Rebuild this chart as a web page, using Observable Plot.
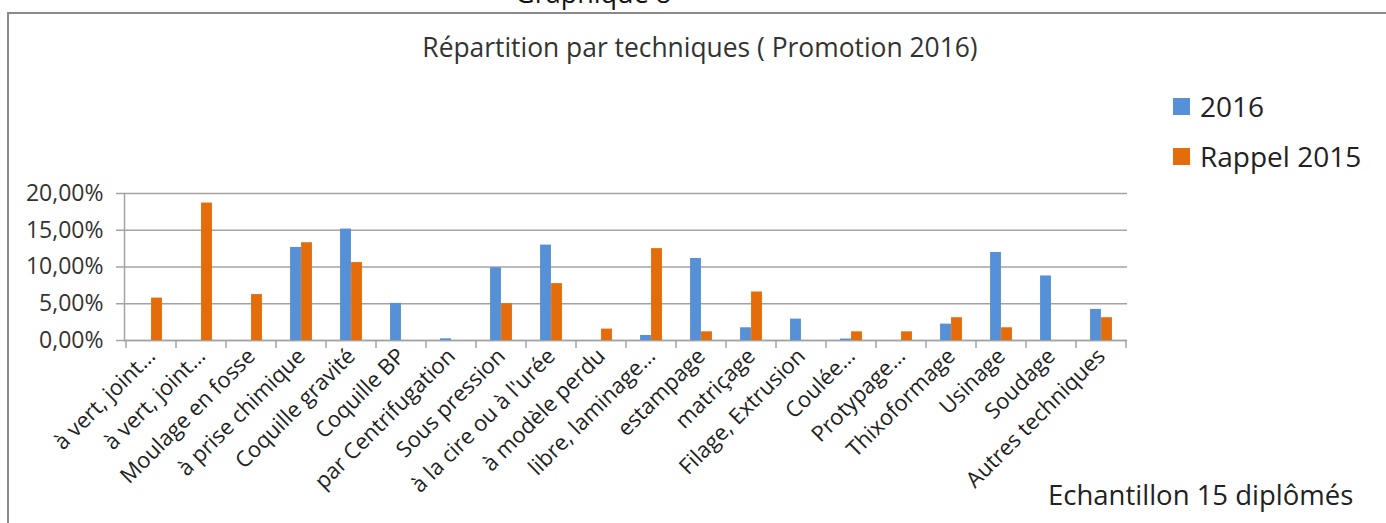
<!DOCTYPE html>
<html><head><meta charset="utf-8">
<script src="https://cdn.jsdelivr.net/npm/d3@7"></script>
<script src="https://cdn.jsdelivr.net/npm/@observablehq/plot@0.6"></script>
<style>
body{margin:0;background:#fff;font-family:"Open Sans",sans-serif;}
#wrap{position:relative;width:1386px;height:523px;overflow:hidden;background:#fff;}
#frame{position:absolute;left:7px;top:12px;width:1400px;height:600px;border-left:2px solid #8a8a8a;border-top:2px solid #8a8a8a;}
#sup{position:absolute;left:515px;top:-21px;font-size:27px;line-height:27px;color:#111;white-space:nowrap;}
#title{position:absolute;left:0;width:1400px;top:30px;text-align:center;font-size:26.4px;line-height:34px;color:#333;white-space:nowrap;}
#chart{position:absolute;left:0;top:0;}
#legend{position:absolute;left:1173px;top:81px;font-size:28px;color:#222;}
#legend .item{display:flex;align-items:center;height:50px;white-space:nowrap;}
#legend .sw{width:17px;height:17px;margin-right:10px;}
#caption{position:absolute;left:1048px;top:478px;font-size:27.5px;line-height:34px;color:#222;white-space:nowrap;}
</style></head><body>
<div id="wrap">
  <div id="frame"></div>
  <div id="sup">Graphique 8</div>
  <div id="title">Répartition par techniques ( Promotion 2016)</div>
  <div id="chart"></div>
  <div id="legend"></div>
  <div id="caption">Echantillon 15 diplômés</div>
</div>
<script>
const categories = [
  "à vert, joint…", "à vert, joint…", "Moulage en fosse", "à prise chimique",
  "Coquille gravité", "Coquille BP", "par Centrifugation", "Sous pression",
  "à la cire ou à l'urée", "à modèle perdu", "libre, laminage…", "estampage",
  "matriçage", "Filage, Extrusion", "Coulée…", "Protypage…", "Thixoformage",
  "Usinage", "Soudage", "Autres techniques"
];
const seriesNames = ["2016", "Rappel 2015"];
const values2016 = [0, 0, 0, 12.66, 15.16, 5.05, 0.23, 9.9, 12.98, 0, 0.68, 11.16, 1.73, 2.91, 0.2, 0, 2.23, 11.98, 8.78, 4.23];
const values2015 = [5.77, 18.7, 6.25, 13.3, 10.6, 0, 0, 5.0, 7.74, 1.55, 12.5, 1.18, 6.6, 0, 1.18, 1.18, 3.1, 1.73, 0, 3.1];
const yTicks = [0, 5, 10, 15, 20];
const colors = ["#5690d6", "#e46c0a"];

const gridColor = "#a3a3a3";
const W = 1386, H = 523;
const mLeft = 124, mRight = 259, mTop = 193, mBottom = 183;
const bw = (W - mLeft - mRight) / categories.length;
const barW = 11;

const rows = categories.map((c, i) => ({i, label: c, v2016: values2016[i], v2015: values2015[i]}));
const fmt = d => d.toFixed(2).replace(".", ",") + "%";

const chart = Plot.plot({
  width: W, height: H,
  marginLeft: mLeft, marginRight: mRight, marginTop: mTop, marginBottom: mBottom,
  style: {fontFamily: "'Open Sans', sans-serif", background: "transparent", overflow: "visible"},
  x: {type: "band", domain: d3.range(categories.length), padding: 0, label: null},
  y: {domain: [0, 20], label: null},
  marks: [
    Plot.gridY(yTicks, {stroke: gridColor, strokeOpacity: 1, strokeWidth: 1.5}),
    Plot.frame({anchor: "left", stroke: gridColor, strokeWidth: 1.5}),
    Plot.ruleY([0], {stroke: gridColor, strokeWidth: 1.5}),
    Plot.barY(rows, {x: "i", y: "v2016", fill: colors[0], insetLeft: bw / 2 - barW, insetRight: bw / 2}),
    Plot.barY(rows, {x: "i", y: "v2015", fill: colors[1], insetLeft: bw / 2, insetRight: bw / 2 - barW}),
    Plot.axisY(yTicks, {tickFormat: fmt, tickSize: 8, tickPadding: 13, stroke: gridColor, strokeWidth: 1.5, fontSize: 23, fill: "#333", label: null}),
    Plot.axisX({tickFormat: i => categories[i], tickRotate: -45, tickSize: 0, tickPadding: 12, fontSize: 22, fill: "#222", label: null})
  ]
});
document.getElementById("chart").appendChild(chart);

// category boundary tick marks on the x axis
const xs = chart.scale("x"), ys = chart.scale("y");
const y0 = ys.apply(0);
const bounds = xs.domain.map(d => xs.apply(d)).concat([xs.apply(xs.domain[xs.domain.length - 1]) + xs.bandwidth]);
const g = d3.select(chart).append("g").attr("stroke", gridColor).attr("stroke-width", 1.5);
bounds.forEach(px => g.append("line").attr("x1", px).attr("x2", px).attr("y1", y0).attr("y2", y0 + 8));

// legend
const legend = d3.select("#legend");
seriesNames.forEach((s, k) => {
  const it = legend.append("div").attr("class", "item");
  it.append("div").attr("class", "sw").style("background", colors[k]);
  it.append("span").text(s);
});
</script>
</body></html>
